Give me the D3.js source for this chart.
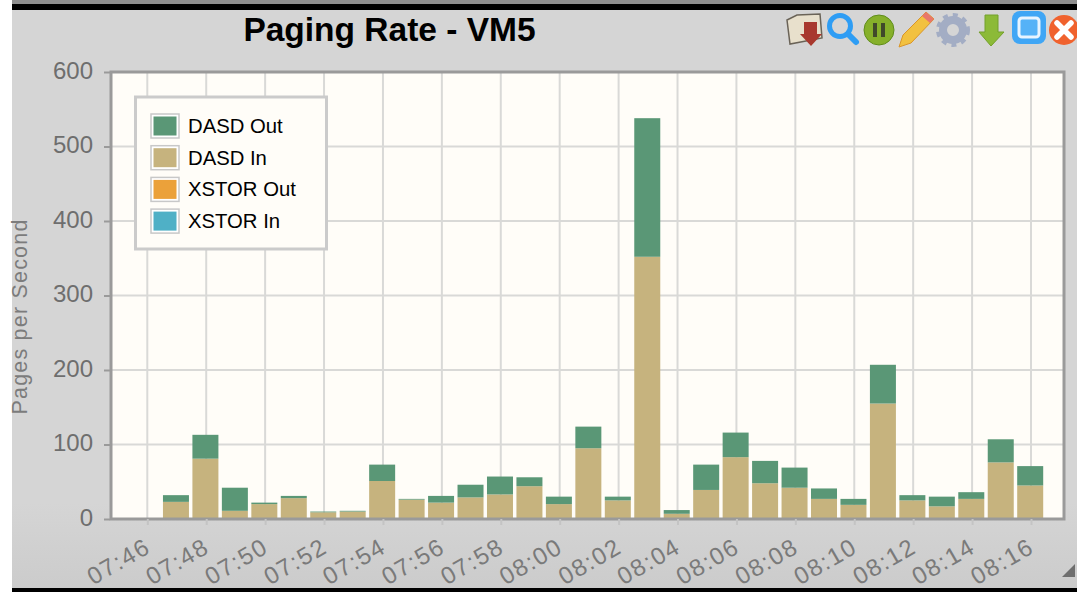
<!DOCTYPE html>
<html><head><meta charset="utf-8">
<script src="https://cdn.jsdelivr.net/npm/d3@7"></script>
<style>html,body{margin:0;padding:0;background:#fff;overflow:hidden}svg{display:block}text{font-family:"Liberation Sans",Arial,sans-serif}</style>
</head><body><svg id="c" width="1077" height="592"></svg>
<script>
const minutes=["07:47","07:48","07:49","07:50","07:51","07:52","07:53","07:54","07:55","07:56","07:57","07:58","07:59","08:00","08:01","08:02","08:03","08:04","08:05","08:06","08:07","08:08","08:09","08:10","08:11","08:12","08:13","08:14","08:15","08:16"];
const dasdIn=[23,81,11,20,28,9,10,51,26,22,29,33,44,20,95,25,352,7,39,83,48,42,27,19,155,25,17,27,76,45];
const dasdOut=[9,32,31,2,3,1,1,22,1,9,17,24,12,10,29,5,186,5,34,33,30,27,14,8,52,7,13,9,31,26];
const xstorOut=minutes.map(()=>0);
const xstorIn=minutes.map(()=>0);
const seriesNames=["XSTOR In","XSTOR Out","DASD In","DASD Out"];
const seriesColors=["#4fb0c6","#eba13a","#c6b37e","#5a9776"];
const legendOrder=["DASD Out","DASD In","XSTOR Out","XSTOR In"];
const yTicks=[0,100,200,300,400,500,600];

const parse=d3.timeParse("%H:%M");
const svg=d3.select("#c");
const L=111,R=1064,T=72,B=519;
const defs=svg.append("defs");
const g=defs.append("linearGradient").attr("id","bg").attr("x1",0).attr("x2",0).attr("y1",0).attr("y2",1);
g.append("stop").attr("offset","0").attr("stop-color","#d5d5d5");
g.append("stop").attr("offset","0.85").attr("stop-color","#d5d5d5");
g.append("stop").attr("offset","1").attr("stop-color","#cbcbcb");
defs.append("filter").attr("id","soft").append("feGaussianBlur").attr("stdDeviation",0.5);

svg.append("rect").attr("x",12).attr("y",0).attr("width",1065).attr("height",592).attr("fill","url(#bg)");
svg.append("rect").attr("x",12).attr("y",0).attr("width",1065).attr("height",4).attr("fill","#8f8f8f");
svg.append("rect").attr("x",12).attr("y",4).attr("width",1065).attr("height",6).attr("fill","#000");
svg.append("rect").attr("x",12).attr("y",588).attr("width",1065).attr("height",4).attr("fill","#000");

const x=d3.scaleTime().domain([parse("07:46"),parse("08:16")]).range([147.3,1031]);
const y=d3.scaleLinear().domain([0,600]).range([B,T]);

svg.append("text").attr("x",389.5).attr("y",41).attr("text-anchor","middle").attr("font-size",33.5).attr("font-weight","bold").attr("fill","#000").text("Paging Rate - VM5");

svg.append("rect").attr("x",L).attr("y",T).attr("width",R-L).attr("height",B-T).attr("fill","#fffdf8");

const xTickVals=d3.timeMinute.every(2).range(parse("07:46"),d3.timeMinute.offset(parse("08:16"),1));
const grid=svg.append("g").attr("stroke","#d9d9d7").attr("stroke-width",2);
xTickVals.forEach(t=>grid.append("line").attr("x1",x(t)).attr("x2",x(t)).attr("y1",T).attr("y2",B));
yTicks.forEach(v=>grid.append("line").attr("x1",L).attr("x2",R).attr("y1",y(v)).attr("y2",y(v)));

const rows=minutes.map((m,i)=>({t:parse(m),"DASD In":dasdIn[i],"DASD Out":dasdOut[i],"XSTOR In":xstorIn[i],"XSTOR Out":xstorOut[i]}));
const stack=d3.stack().keys(seriesNames)(rows);
const color=d3.scaleOrdinal(seriesNames,seriesColors);
const bw=26;
svg.append("g").selectAll("g").data(stack).join("g").attr("fill",d=>color(d.key))
 .selectAll("rect").data(d=>d.filter(p=>p[1]>p[0])).join("rect")
 .attr("x",d=>x(d.data.t)-bw/2-0.8).attr("width",bw)
 .attr("y",d=>y(d[1])).attr("height",d=>y(d[0])-y(d[1]));

svg.append("rect").attr("x",L).attr("y",T).attr("width",R-L).attr("height",B-T).attr("fill","none").attr("stroke","#9a9a9a").attr("stroke-width",3);

const yAxis=d3.axisLeft(y).tickValues(yTicks).tickSize(6).tickPadding(11);
const ya=svg.append("g").attr("transform",`translate(${L-1},0)`).call(yAxis);
ya.select(".domain").remove();
ya.selectAll("line").attr("stroke","#9a9a9a").attr("stroke-width",2);
ya.selectAll("text").attr("font-size",24).attr("fill","#6e6e6e").attr("dy","0.25em").attr("font-family","'Liberation Sans',Arial,sans-serif");

const xAxis=d3.axisBottom(x).tickValues(xTickVals).tickFormat(d3.timeFormat("%H:%M")).tickSize(6);
const xa=svg.append("g").attr("transform",`translate(0,${B})`).call(xAxis);
xa.select(".domain").remove();
xa.selectAll("line").attr("stroke","#c4c4c4").attr("stroke-width",2);
xa.selectAll("text").attr("font-size",24).attr("fill","#7a7a7a").attr("text-anchor","end").attr("letter-spacing",1.6).attr("font-family","'Liberation Sans',Arial,sans-serif")
 .attr("transform","translate(-11,6) rotate(-30)").attr("dy","0.9em").attr("dx","0");

svg.append("text").attr("transform","translate(27,316.5) rotate(-90)").attr("text-anchor","middle").attr("font-size",21.5).attr("letter-spacing",1.2).attr("fill","#7c7c7c").text("Pages per Second");

// legend
svg.append("rect").attr("x",135.5).attr("y",97).attr("width",191).attr("height",152).attr("fill","#fffdf8").attr("stroke","#cbcbcb").attr("stroke-width",3);
const lg=svg.append("g").selectAll("g").data(legendOrder).join("g").attr("transform",(d,i)=>`translate(151,${114+i*31.7})`);
lg.append("rect").attr("width",28).attr("height",24).attr("fill","#fff").attr("stroke","#c8c8c8").attr("stroke-width",1.5);
lg.append("rect").attr("x",2.5).attr("y",2.5).attr("width",23).attr("height",19).attr("fill",d=>color(d));
lg.append("text").attr("x",37).attr("y",19).attr("font-size",20.3).attr("fill","#000").text(d=>d);

// toolbar icons
const ic=svg.append("g").attr("filter","url(#soft)");
ic.append("path").attr("d","M787 20 L797 15 L820 14 L822 38 L790 44 Z").attr("fill","#e8e0cc").attr("stroke","#6b6458").attr("stroke-width",1.5);
ic.append("path").attr("d","M804 22 H817 V34 H822 L811 46 L800 34 H804 Z").attr("fill","#a8392d");
ic.append("circle").attr("cx",840).attr("cy",26).attr("r",10.5).attr("fill","none").attr("stroke","#2f9df4").attr("stroke-width",5);
ic.append("line").attr("x1",848).attr("y1",34).attr("x2",856).attr("y2",42).attr("stroke","#2f9df4").attr("stroke-width",6).attr("stroke-linecap","round");
ic.append("circle").attr("cx",879).attr("cy",30).attr("r",15).attr("fill","#86b02a").attr("stroke","#5f8c1a");
ic.append("rect").attr("x",873).attr("y",23).attr("width",4).attr("height",14).attr("fill","#3f4a2a");
ic.append("rect").attr("x",881).attr("y",23).attr("width",4).attr("height",14).attr("fill","#3f4a2a");
ic.append("path").attr("d","M899 47 L903 35 L926 12 L934 19 L911 43 Z").attr("fill","#f2c13f").attr("stroke","#d9952a");
ic.append("path").attr("d","M926 12 L934 19 L930 23 L922 16 Z").attr("fill","#e8776a");
ic.append("circle").attr("cx",953).attr("cy",30).attr("r",10).attr("fill","none").attr("stroke","#a3adc4").attr("stroke-width",8);
ic.append("circle").attr("cx",953).attr("cy",30).attr("r",15).attr("fill","none").attr("stroke","#a3adc4").attr("stroke-width",4).attr("stroke-dasharray","5 5");
ic.append("path").attr("d","M985 15 H998 V32 H1004 L991 46 L979 32 H985 Z").attr("fill","#8cba37").attr("stroke","#73a02a");
ic.append("rect").attr("x",1012).attr("y",11).attr("width",34).attr("height",33).attr("rx",8).attr("fill","#3fa6f5");
ic.append("rect").attr("x",1019).attr("y",18).attr("width",20).attr("height",19).attr("rx",3).attr("fill","#54b2f7").attr("stroke","#e8f4ff").attr("stroke-width",3);
ic.append("circle").attr("cx",1064).attr("cy",30).attr("r",15).attr("fill","#f0622d");
ic.append("path").attr("d","M1057 23 L1071 37 M1071 23 L1057 37").attr("stroke","#fff").attr("stroke-width",5.5).attr("stroke-linecap","round");
ic.append("path").attr("d","M1062 577 L1075 564 V577 Z").attr("fill","#6e6e6e");
</script></body></html>
